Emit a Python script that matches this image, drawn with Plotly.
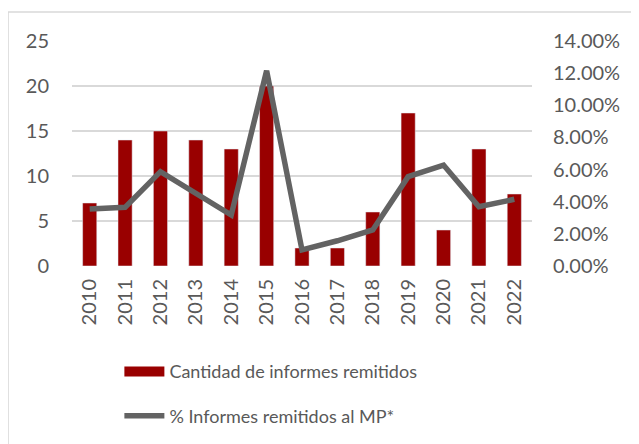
import plotly.graph_objects as go

years = ["2010", "2011", "2012", "2013", "2014", "2015", "2016",
         "2017", "2018", "2019", "2020", "2021", "2022"]
informes = [7, 14, 15, 14, 13, 20, 2, 2, 6, 17, 4, 13, 8]
pct_mp = [0.0355, 0.0365, 0.0587, 0.0452, 0.0317, 0.1215, 0.0100,
          0.0157, 0.0224, 0.0556, 0.0628, 0.0369, 0.0415]

BAR = "#990000"
LINE = "#636363"
TXT = "#595959"
FONT = "Lato"

fig = go.Figure()

fig.add_trace(go.Bar(
    x=years, y=informes, marker_color=BAR, width=0.4,
    showlegend=False, yaxis="y",
))
# legend entry drawn as a wide block like the original
fig.add_trace(go.Scatter(
    x=[None], y=[None], mode="lines", line=dict(color=BAR, width=14),
    name="Cantidad de informes remitidos", legendgroup="a",
))
fig.add_trace(go.Scatter(
    x=years, y=pct_mp, mode="lines", yaxis="y2",
    line=dict(color=LINE, width=5.5), name="% Informes remitidos al MP*",
    legendgroup="b",
))

# the page body adds an 8px offset, so margins are trimmed to compensate
fig.update_layout(
    width=639, height=444,
    margin=dict(l=64, r=115, t=33, b=186, autoexpand=False),
    paper_bgcolor="white", plot_bgcolor="white",
    font=dict(family=FONT, size=20, color=TXT),
    xaxis=dict(
        type="category", tickangle=-90, showgrid=False, showline=False,
        ticks="", ticklabelstandoff=8,
    ),
    yaxis=dict(
        range=[0, 25], dtick=5, showgrid=True, gridcolor="#d9d9d9",
        gridwidth=1.5, zeroline=False, showline=False, ticks="",
        ticklabelstandoff=22,
    ),
    yaxis2=dict(
        range=[0, 0.14], dtick=0.02, tickformat=".2%", overlaying="y",
        side="right", showgrid=False, zeroline=False, showline=False,
        ticks="", ticklabelstandoff=20,
    ),
    legend=dict(
        orientation="v", x=0.103, xanchor="left",
        yref="container", y=0.2225, yanchor="top",
        traceorder="grouped", tracegroupgap=18, itemwidth=40,
        font=dict(size=18, color=TXT),
    ),
    shapes=[dict(
        type="rect", xref="paper", yref="paper",
        x0=-0.139, x1=1.5, y0=-0.9, y1=1.129,
        line=dict(color="#d9d9d9", width=1.5), layer="below",
    )],
)

fig.write_html("out.html")
